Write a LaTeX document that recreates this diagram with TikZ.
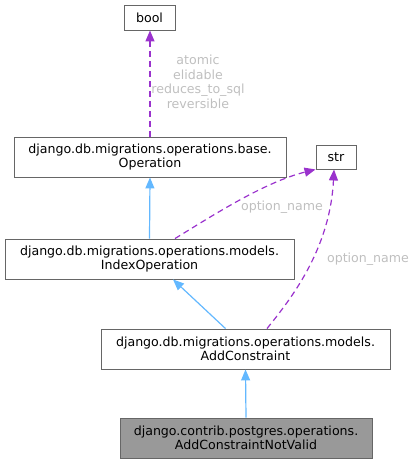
\documentclass[tikz,border=0pt]{standalone}
\usepackage{fontspec}
\setmainfont{DejaVu Sans}
\definecolor{dxBorder}{RGB}{102,102,102}
\definecolor{dxGrey}  {RGB}{153,153,153}
\definecolor{dxBlue}  {RGB}{ 99,184,255}
\definecolor{dxPurple}{RGB}{154, 50,205}
\definecolor{dxLabel} {RGB}{191,191,191}
\usetikzlibrary{arrows.meta}

\begin{document}
\begin{tikzpicture}[
  x=1pt, y=-1pt,
  cls/.style={draw=dxBorder, line width=0.9pt, fill=white,
              inner sep=0pt, minimum height=40pt, align=center,
              font=\fontsize{12.6}{14.5}\selectfont},
  leaf/.style={cls, minimum height=25pt},
  inh/.style={-{Triangle[length=11pt,width=9pt]}, line width=1.2pt, color=dxBlue},
  uses/.style={-{Triangle[length=11pt,width=9pt]}, line width=1.2pt, color=dxPurple,
               dash pattern=on 6pt off 4pt},
  lbl/.style={text=dxLabel, align=center, inner sep=0pt,
              font=\fontsize{12.6}{14.5}\selectfont},
]
  \useasboundingbox (0,0) rectangle (417,464);

  % used types
  \node[leaf] (bool) at (149.5, 17.5) [minimum width=51pt] {bool};
  \node[leaf] (str)  at (336, 157) [minimum width=40pt, minimum height=24pt] {str};

  % class chain, top to bottom
  \node[cls] (op)  at (150, 157) [minimum width=272pt] {django.db.migrations.operations.base.\\Operation};
  \node[cls] (idx) at (149.5, 259) [minimum width=289pt] {django.db.migrations.operations.models.\\IndexOperation};
  \node[cls] (ac)  at (245.5, 349) [minimum width=289pt] {django.db.migrations.operations.models.\\AddConstraint};
  \node[cls, fill=dxGrey] (ntv) at (246, 438) [minimum width=252pt] {django.contrib.postgres.operations.\\AddConstraintNotValid};

  % inheritance
  \draw[inh] (idx.north) -- (op.south);
  \draw[inh] ([xshift=-20pt]ac.north) -- ([xshift=23.5pt]idx.south);
  \draw[inh] (ntv.north) -- (ac.south);

  % member usage
  \draw[uses] (op.north) -- (op.north |- bool.south);
  \node[lbl] (lboolattr) at (198, 82) {atomic\\elidable\\reduces\_to\_sql\\reversible};

  \draw[uses] ([xshift=25.5pt]idx.north) .. controls (215,214) and (265,182) .. (str.south west);
  \node[lbl] (lstrA) at (282, 207) {option\_name};

  \draw[uses] ([xshift=21.5pt]ac.north) .. controls (290,300) and (330,250) .. ([xshift=-2pt]str.south);
  \node[lbl] (lstrB) at (368, 259) {option\_name};
\end{tikzpicture}
\end{document}
